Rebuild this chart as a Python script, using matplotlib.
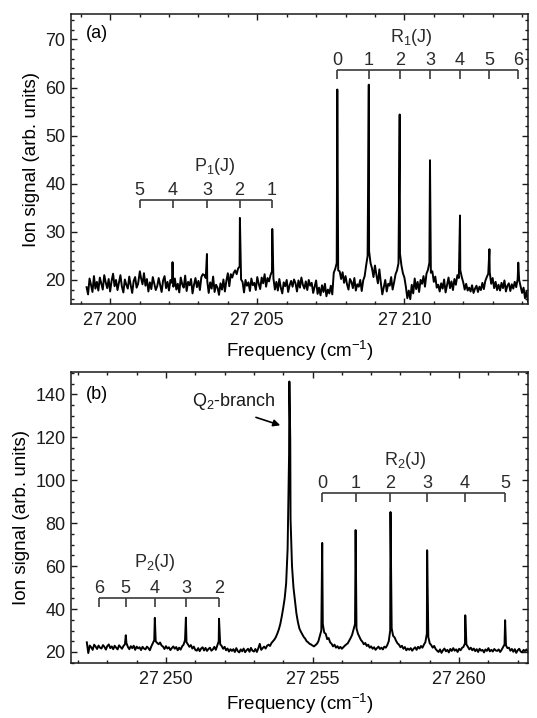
import numpy as np
import matplotlib
matplotlib.use("Agg")
import matplotlib.pyplot as plt
from matplotlib.ticker import MultipleLocator, FuncFormatter

plt.rcParams['font.family'] = ['Liberation Sans', 'DejaVu Sans']
plt.rcParams['mathtext.fontset'] = 'custom'
plt.rcParams['mathtext.rm'] = 'Liberation Sans'
plt.rcParams['mathtext.it'] = 'Liberation Sans:italic'
plt.rcParams['mathtext.default'] = 'rm'

# ---------------- Panel (a) data ----------------
a_start = 27199.20
a_step = 0.05
a_base = [
    18.5, 17.0, 20.3, 19.0, 17.5, 20.8, 18.2, 19.6, 17.8, 20.5, 19.2, 18.0, 21.0, 19.5, 18.3, 20.2, 17.6, 19.8, 21.3, 18.7,
    20.0, 17.9, 19.4, 21.0, 18.6, 17.4, 20.1, 19.0, 18.2, 20.7, 18.9, 17.3, 19.8, 20.6, 18.4, 19.2, 21.5, 20.4, 19.1, 21.4,
    18.8, 20.2, 17.6, 19.5, 18.1, 20.6, 19.3, 17.9, 18.7, 20.4, 19.0, 17.5, 19.9, 20.8, 18.3, 19.6, 17.8, 20.0, 19.4, 18.6,
    20.3, 18.0, 19.2, 17.4, 20.5, 19.1, 18.4, 20.9, 17.7, 19.6, 18.9, 20.2, 17.2, 19.0, 20.4, 18.5, 19.8, 17.9, 20.6, 21.2,
    21.0, 20.4, 19.8, 17.3, 19.5, 18.2, 20.7, 17.5, 19.0, 18.4, 16.9, 19.3, 18.0, 20.1, 17.6, 19.8, 21.4, 18.7, 21.2, 20.5,
    21.5, 22.0, 21.2, 22.4, 22.8, 20.1, 19.6, 17.4, 20.0, 18.8, 19.5, 17.7, 20.3, 18.9, 19.4, 17.9, 20.6, 19.2, 18.1, 20.5,
    19.3, 21.2, 18.6, 20.4, 19.7, 21.0, 21.8, 20.3, 18.0, 19.6, 17.8, 20.2, 18.4, 17.2, 19.5, 18.7, 20.0, 17.5, 18.9, 19.8,
    18.6, 20.1, 19.3, 17.6, 19.9, 18.4, 20.5, 19.0, 18.2, 19.7, 17.9, 20.0, 18.8, 19.4, 17.3, 18.6, 19.9, 17.1, 18.4, 16.8,
    18.9, 17.5, 19.2, 16.6, 18.0, 17.2, 18.8, 17.0, 21.5, 22.3, 23.5, 22.0, 21.8, 20.2, 21.6, 19.4, 20.8, 19.1, 18.0, 20.2,
    19.6, 18.3, 20.4, 17.8, 19.1, 18.6, 20.0, 17.7, 19.9, 20.8, 23.0, 25.0, 26.0, 23.5, 22.4, 20.6, 23.0, 21.0, 19.3, 22.2,
    19.4, 17.0, 18.5, 20.0, 17.6, 19.2, 18.8, 20.6, 18.0, 19.5, 21.2, 22.0, 23.5, 25.5, 23.0, 21.4, 20.5, 18.6, 16.2, 17.8,
    16.0, 19.0, 17.2, 20.3, 18.1, 19.6, 17.5, 20.0, 19.2, 20.8, 18.6, 21.3, 22.1, 23.6, 21.5, 21.8, 19.6, 20.7, 18.4, 19.0,
    17.6, 19.3, 18.2, 20.1, 17.4, 19.0, 20.5, 18.3, 19.7, 17.9, 20.2, 19.0, 21.0, 20.4, 22.0, 20.6, 19.5, 18.0, 19.2, 17.8,
    18.4, 17.6, 18.9, 17.3, 18.2, 18.8, 17.5, 18.6, 17.9, 19.4, 18.1, 19.8, 20.6, 21.3, 21.6, 19.2, 20.4, 18.3, 19.6, 17.9,
    19.0, 17.8, 19.4, 18.3, 19.9, 17.6, 18.8, 19.3, 17.7, 19.1, 18.2, 19.6, 18.5, 20.2, 20.0, 18.6, 17.3, 18.4, 16.2, 17.6,
    15.5,
]
a_peak_x = [27201.01, 27202.12, 27203.29, 27204.41, 27205.51,
            27207.72, 27208.79, 27209.84, 27210.87, 27211.89, 27212.89, 27213.87]
a_peak_y = [21.8, 23.7, 25.4, 32.9, 30.6,
            59.6, 60.6, 54.4, 44.9, 33.4, 26.4, 23.6]

# ladders panel (a)
P1_J = [5, 4, 3, 2, 1]
P1_pos = [27201.00, 27202.12, 27203.29, 27204.40, 27205.50]
R1_J = [0, 1, 2, 3, 4, 5, 6]
R1_pos = [27207.72, 27208.79, 27209.84, 27210.87, 27211.89, 27212.89, 27213.87]

# ---------------- Panel (b) data ----------------
b_start = 27247.30
b_step = 0.05
b_base = [
    24.5, 19.5, 23.0, 22.2, 21.0, 23.4, 22.5, 21.4, 23.0, 22.0, 21.6, 23.2, 22.4, 21.1, 22.8, 23.5, 21.8, 22.6, 21.3, 22.9,
    22.0, 21.2, 23.1, 22.3, 21.5, 22.8, 23.6, 24.2, 22.4, 21.3, 22.7, 21.8, 22.9, 21.0, 22.5, 21.7, 22.2, 20.9, 22.4, 21.6,
    21.2, 22.5, 21.8, 20.8, 22.6, 24.0, 25.5, 25.0, 24.2, 23.6, 24.4, 23.0, 22.5, 21.4, 22.7, 21.6, 22.2, 20.9, 21.8, 22.6,
    21.5, 22.3, 20.8, 22.0, 21.1, 22.6, 23.4, 25.5, 24.6, 23.5, 22.4, 23.2, 21.6, 22.5, 21.0, 20.6, 21.8, 20.4, 21.6, 22.2,
    20.7, 21.9, 20.5, 21.4, 22.0, 20.6, 21.2, 22.4, 21.0, 23.0, 25.0, 23.6, 22.8, 21.5, 22.4, 20.8, 21.6, 20.2, 21.3, 20.5,
    21.3, 20.0, 21.8, 20.4, 19.8, 21.2, 20.3, 21.6, 19.9, 20.8, 21.5, 20.1, 21.9, 20.6, 20.2, 21.4, 20.0, 21.7, 23.8, 21.0,
    21.8, 22.5, 21.6, 22.9, 23.4, 22.8, 24.2, 25.0, 25.8, 27.0, 28.6, 30.5, 33.0, 36.5, 40.5, 45.0, 52.0, 68.0, 112.0, 82.0,
    60.0, 50.0, 44.0, 38.0, 34.0, 31.0, 29.5, 28.3, 27.0, 26.2, 25.0, 24.5, 23.8, 23.5, 23.0, 22.6, 23.2, 23.8, 25.0, 27.5,
    30.0, 33.0, 29.0, 28.5, 26.0, 26.5, 24.5, 23.8, 22.6, 23.4, 22.0, 22.7, 21.6, 22.4, 21.5, 22.2, 22.9, 23.5, 24.0, 25.2,
    26.5, 28.0, 30.5, 33.0, 31.0, 28.5, 27.0, 25.6, 24.8, 23.6, 24.2, 22.8, 23.4, 22.0, 22.6, 21.5, 22.2, 21.0, 21.8, 22.5,
    21.4, 22.0, 21.2, 22.5, 22.0, 23.2, 25.0, 30.0, 31.0, 27.5, 26.8, 25.2, 24.0, 23.4, 22.2, 22.9, 21.5, 22.3, 20.8, 21.6,
    21.0, 21.8, 20.6, 21.5, 22.2, 21.0, 22.4, 21.6, 22.8, 22.0, 23.4, 24.6, 28.5, 27.0, 24.0, 23.2, 22.0, 22.8, 21.4, 20.6,
    20.0, 21.2, 19.6, 20.8, 21.6, 20.3, 21.0, 19.8, 21.4, 20.5, 21.8, 20.6, 21.2, 20.0, 21.5, 20.8, 21.9, 22.4, 24.0, 23.5,
    22.4, 21.2, 22.0, 20.8, 21.6, 20.4, 21.3, 20.0, 21.5, 20.6, 21.0, 19.8, 21.2, 20.5, 21.8, 20.3, 21.0, 20.2, 21.4, 20.7,
    20.5, 21.2, 20.0, 21.0, 22.2, 23.5, 23.0, 21.8, 22.0, 20.6, 21.4, 20.1, 21.3, 19.6, 20.8, 21.5, 20.2, 19.8, 21.0, 20.4,
    21.2, 20.0, 21.4, 20.6,
]
b_peak_x = [27248.63, 27249.62, 27250.68, 27251.81,
            27254.21, 27254.24,
            27255.33, 27256.47, 27257.66, 27258.91, 27260.21, 27261.57]
b_peak_y = [27.8, 35.9, 36.0, 35.5,
            146.0, 119.0,
            70.8, 76.8, 85.2, 67.4, 37.1, 34.8]

P2_J = [6, 5, 4, 3, 2]
P2_pos = [27247.71, 27248.63, 27249.62, 27250.68, 27251.80]
R2_J = [0, 1, 2, 3, 4, 5]
R2_pos = [27255.33, 27256.47, 27257.65, 27258.90, 27260.20, 27261.57]

FS = 13
FS_LAB = 13.5


def build(start, step, base, px, py):
    gx = start + step * np.arange(len(base))
    x = np.concatenate([gx, np.asarray(px)])
    y = np.concatenate([np.asarray(base), np.asarray(py)])
    o = np.argsort(x)
    return x[o], y[o]


def ladder(ax, pos, labels, y_line, y_tick, y_lab, name, name_x, name_y):
    col = '#3a3a3a'
    ax.plot([pos[0], pos[-1]], [y_line, y_line], color=col, lw=1.2, solid_capstyle='butt')
    ax.vlines(pos, y_tick, y_line, color=col, lw=1.2)
    for p, j in zip(pos, labels):
        ax.text(p, y_lab, str(j), ha='center', va='center', fontsize=FS, color='#2a2a2a')
    ax.text(name_x, name_y, name, ha='center', va='center', fontsize=FS, color='#2a2a2a')


def fmt(v, _):
    s = f"{int(round(v))}"
    return s[:2] + '\u2009' + s[2:]


def style(ax, ymajor, yminor, xlabelpad):
    ax.xaxis.set_major_locator(MultipleLocator(5))
    ax.xaxis.set_minor_locator(MultipleLocator(1))
    ax.yaxis.set_major_locator(MultipleLocator(ymajor))
    ax.yaxis.set_minor_locator(MultipleLocator(yminor))
    ax.xaxis.set_major_formatter(FuncFormatter(fmt))
    ax.tick_params(which='both', direction='in', top=True, right=True, colors='#1a1a1a',
                   labelsize=FS, width=1.0)
    ax.tick_params(which='major', length=4.5)
    ax.tick_params(axis='x', which='major', pad=6)
    ax.tick_params(axis='y', which='major', pad=4)
    ax.tick_params(which='minor', length=2.5)
    for s in ax.spines.values():
        s.set_linewidth(1.1)
        s.set_color('#1a1a1a')
    ax.set_xlabel('Frequency (cm$^{-1}$)', fontsize=FS_LAB, labelpad=xlabelpad)
    ax.set_ylabel('Ion signal (arb. units)', fontsize=FS_LAB, labelpad=4)


fig = plt.figure(figsize=(5.37, 7.18), dpi=100)
ax1 = fig.add_axes([0.1322, 0.5766, 0.8510, 0.4039])
ax2 = fig.add_axes([0.1322, 0.0770, 0.8510, 0.4045])

xa, ya = build(a_start, a_step, a_base, a_peak_x, a_peak_y)
ax1.plot(xa, ya, color='black', lw=1.4)
ax1.set_xlim(27198.67, 27214.2)
ax1.set_ylim(15, 75.3)
style(ax1, 10, 2, 7)
ladder(ax1, P1_pos, P1_J, 36.7, 35.0, 38.7, 'P$_1$(J)', 27203.56, 43.6)
ladder(ax1, R1_pos, R1_J, 63.6, 61.7, 65.7, 'R$_1$(J)', 27210.23, 70.4)
ax1.text(0.033, 0.933, '(a)', transform=ax1.transAxes, ha='left', va='center', fontsize=FS)

xb, yb = build(b_start, b_step, b_base, b_peak_x, b_peak_y)
ax2.plot(xb, yb, color='black', lw=1.4)
ax2.set_xlim(27246.76, 27262.35)
ax2.set_ylim(15, 150.3)
style(ax2, 20, 5, 3)
ladder(ax2, P2_pos, P2_J, 45.2, 41.0, 49.4, 'P$_2$(J)', 27249.62, 61.5)
ladder(ax2, R2_pos, R2_J, 93.9, 90.0, 98.4, 'R$_2$(J)', 27258.16, 109.4)
ax2.text(0.033, 0.924, '(b)', transform=ax2.transAxes, ha='left', va='center', fontsize=FS)
ax2.text(27252.32, 136.6, 'Q$_2$-branch', ha='center', va='center', fontsize=FS, color='#1a1a1a')
ax2.annotate('', xy=(27253.90, 125.6), xytext=(27253.07, 129.3),
             arrowprops=dict(arrowstyle='-|>', color='black', lw=1.2,
                             mutation_scale=10, shrinkA=0, shrinkB=0))

fig.savefig('out.png', dpi=100)
